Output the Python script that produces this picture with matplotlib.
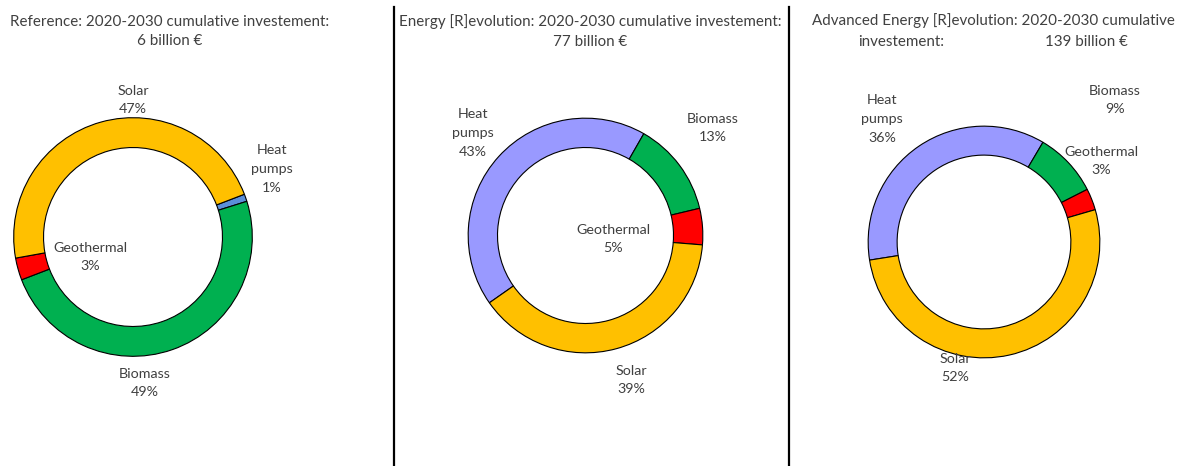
import matplotlib
matplotlib.use("Agg")
import matplotlib.pyplot as plt
from matplotlib.lines import Line2D

plt.rcParams['font.family'] = ['Lato', 'DejaVu Sans']

W, H = 1184, 466
DPI = 100

# Shares per scenario, listed clockwise from the first slice
categories = ["Heat\npumps", "Biomass", "Geothermal", "Solar"]
reference_share = [1, 49, 3, 47]
energy_rev_share = [43, 13, 5, 39]
advanced_rev_share = [36, 9, 3, 52]

titles = [
    "Reference: 2020-2030 cumulative investement:\n6 billion €",
    "Energy [R]evolution: 2020-2030 cumulative investement:\n77 billion €",
    "Advanced Energy [R]evolution: 2020-2030 cumulative",
]

colors = ["#9999FF", "#00B050", "#FF0000", "#FFC000"]
reference_colors = ["#5B8FD9", "#00B050", "#FF0000", "#FFC000"]
text_color = "#404040"
title_size = 10.9
label_size = 10.3

# Layout in pixels: donut centre, outer radius, start angle
panels = [
    dict(values=reference_share, colors=reference_colors, cx=133, cy=237, r=120.5, start=21,
         labels=[(272, 169), (145, 383), (90, 257), (133, 100)]),
    dict(values=energy_rev_share, colors=colors, cx=585.5, cy=235.5, r=118.5, start=215,
         labels=[(473, 133), (713, 128), (613, 239), (631, 380)]),
    dict(values=advanced_rev_share, colors=colors, cx=984, cy=242, r=117, start=189,
         labels=[(882, 119), (1115, 100), (1101, 161), (955, 368)]),
]

fig = plt.figure(figsize=(W / DPI, H / DPI), dpi=DPI)
fig.patch.set_facecolor("white")

for p in panels:
    cx, cy, r = p["cx"], p["cy"], p["r"]
    ax = fig.add_axes([(cx - r) / W, (H - cy - r) / H, 2 * r / W, 2 * r / H])
    ax.pie(p["values"], colors=p["colors"], startangle=p["start"], counterclock=False,
           radius=1.0,
           wedgeprops=dict(width=0.25, edgecolor="black", linewidth=0.8))
    ax.set_xlim(-1.01, 1.01)
    ax.set_ylim(-1.01, 1.01)
    ax.set_aspect("equal")
    ax.axis("off")
    for name, val, (lx, ly) in zip(categories, p["values"], p["labels"]):
        fig.text(lx / W, 1 - ly / H, f"{name}\n{val}%", ha="center", va="center",
                 fontsize=label_size, color=text_color, linespacing=1.65)

# Titles
fig.text(170 / W, 1 - 31.5 / H, titles[0], ha="center", va="center",
         fontsize=title_size, color=text_color, linespacing=1.5)
fig.text(590.5 / W, 1 - 31.5 / H, titles[1], ha="center", va="center",
         fontsize=title_size, color=text_color, linespacing=1.5)
fig.text(993.5 / W, 1 - 21 / H, titles[2], ha="center", va="center",
         fontsize=title_size, color=text_color)
fig.text(901 / W, 1 - 42 / H, "investement:", ha="center", va="center",
         fontsize=title_size, color=text_color)
fig.text(1086.5 / W, 1 - 42 / H, "139 billion €", ha="center", va="center",
         fontsize=title_size, color=text_color)

# Panel separators
for x in (394, 789):
    fig.add_artist(Line2D([x / W, x / W], [0, 1 - 7 / H], color="black",
                          linewidth=1.6, transform=fig.transFigure))

fig.savefig("out.png", dpi=DPI, facecolor="white")
